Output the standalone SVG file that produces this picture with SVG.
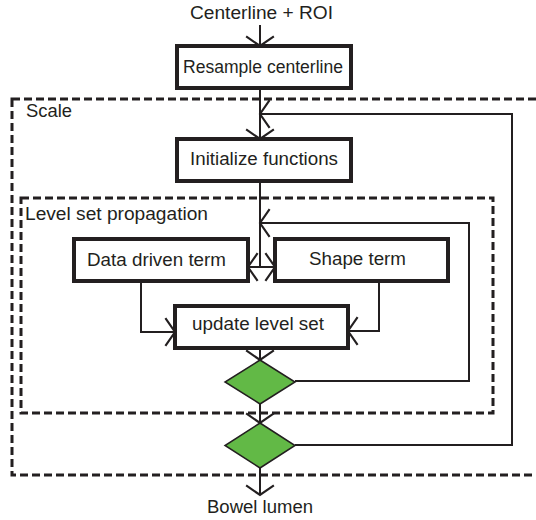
<svg xmlns="http://www.w3.org/2000/svg" width="536" height="520" viewBox="0 0 536 520">
<defs>
<marker id="arr" markerUnits="userSpaceOnUse" markerWidth="24" markerHeight="32" viewBox="-12 -15 14 30" refX="0" refY="0" orient="auto">
<path d="M-9,-13 L0,0 L-9,13" fill="none" stroke="#231f20" stroke-width="2"/>
</marker>
</defs>
<style>
text{font-family:"Liberation Sans",Arial,sans-serif;font-size:18.3px;fill:#231f20}
.box{fill:#fff;stroke:#231f20;stroke-width:4}
.dash{fill:none;stroke:#231f20;stroke-width:3;stroke-dasharray:8 4}
.dia{fill:#62b946;stroke:#231f20;stroke-width:1.5}
.c{fill:none;stroke:#231f20;stroke-width:2;marker-end:url(#arr)}
.p{fill:none;stroke:#231f20;stroke-width:2}
</style>
<rect class="dash" x="12" y="99" width="540" height="376"/>
<rect class="dash" x="21" y="198" width="472" height="215"/>
<text x="26" y="117" textLength="46" lengthAdjust="spacingAndGlyphs">Scale</text>
<text x="25" y="220" textLength="183" lengthAdjust="spacingAndGlyphs">Level set propagation</text>
<text x="190" y="19" textLength="143" lengthAdjust="spacingAndGlyphs">Centerline + ROI</text>
<text x="207" y="513" textLength="106" lengthAdjust="spacingAndGlyphs">Bowel lumen</text>
<g id="connectors">
<path class="c" d="M260,25 V46"/>
<path class="c" d="M260,88 V139"/>
<path class="c" d="M295,445 H512 V114 H260"/>
<path class="p" d="M260,181 V267"/>
<path class="c" d="M260,267 H248"/>
<path class="c" d="M260,267 H275"/>
<path class="c" d="M295,381 H469 V223 H260"/>
<path class="c" d="M141,281 V332 H175"/>
<path class="c" d="M379,281 V331 H348"/>
<path class="c" d="M260,348 V360"/>
<path class="c" d="M260,404 V423"/>
<path class="c" d="M260,468 V495"/>
</g>
<g id="resample"><rect class="box" x="177" y="46" width="174" height="42"/><text x="183" y="73" textLength="160" lengthAdjust="spacingAndGlyphs">Resample centerline</text></g>
<g id="init"><rect class="box" x="177" y="139" width="174" height="42"/><text x="190" y="165" textLength="148" lengthAdjust="spacingAndGlyphs">Initialize functions</text></g>
<g id="data"><rect class="box" x="74" y="239" width="174" height="42"/><text x="87" y="266" textLength="139" lengthAdjust="spacingAndGlyphs">Data driven term</text></g>
<g id="shape"><rect class="box" x="275" y="239" width="173" height="42"/><text x="309" y="265" textLength="97" lengthAdjust="spacingAndGlyphs">Shape term</text></g>
<g id="update"><rect class="box" x="175" y="306" width="173" height="42"/><text x="192" y="330" textLength="132" lengthAdjust="spacingAndGlyphs">update level set</text></g>
<g id="dec1"><polygon class="dia" points="260,360 295,382 260,404 225,382"/></g>
<g id="dec2"><polygon class="dia" points="260,423 295,445.5 260,468 225,445.5"/></g>
</svg>
